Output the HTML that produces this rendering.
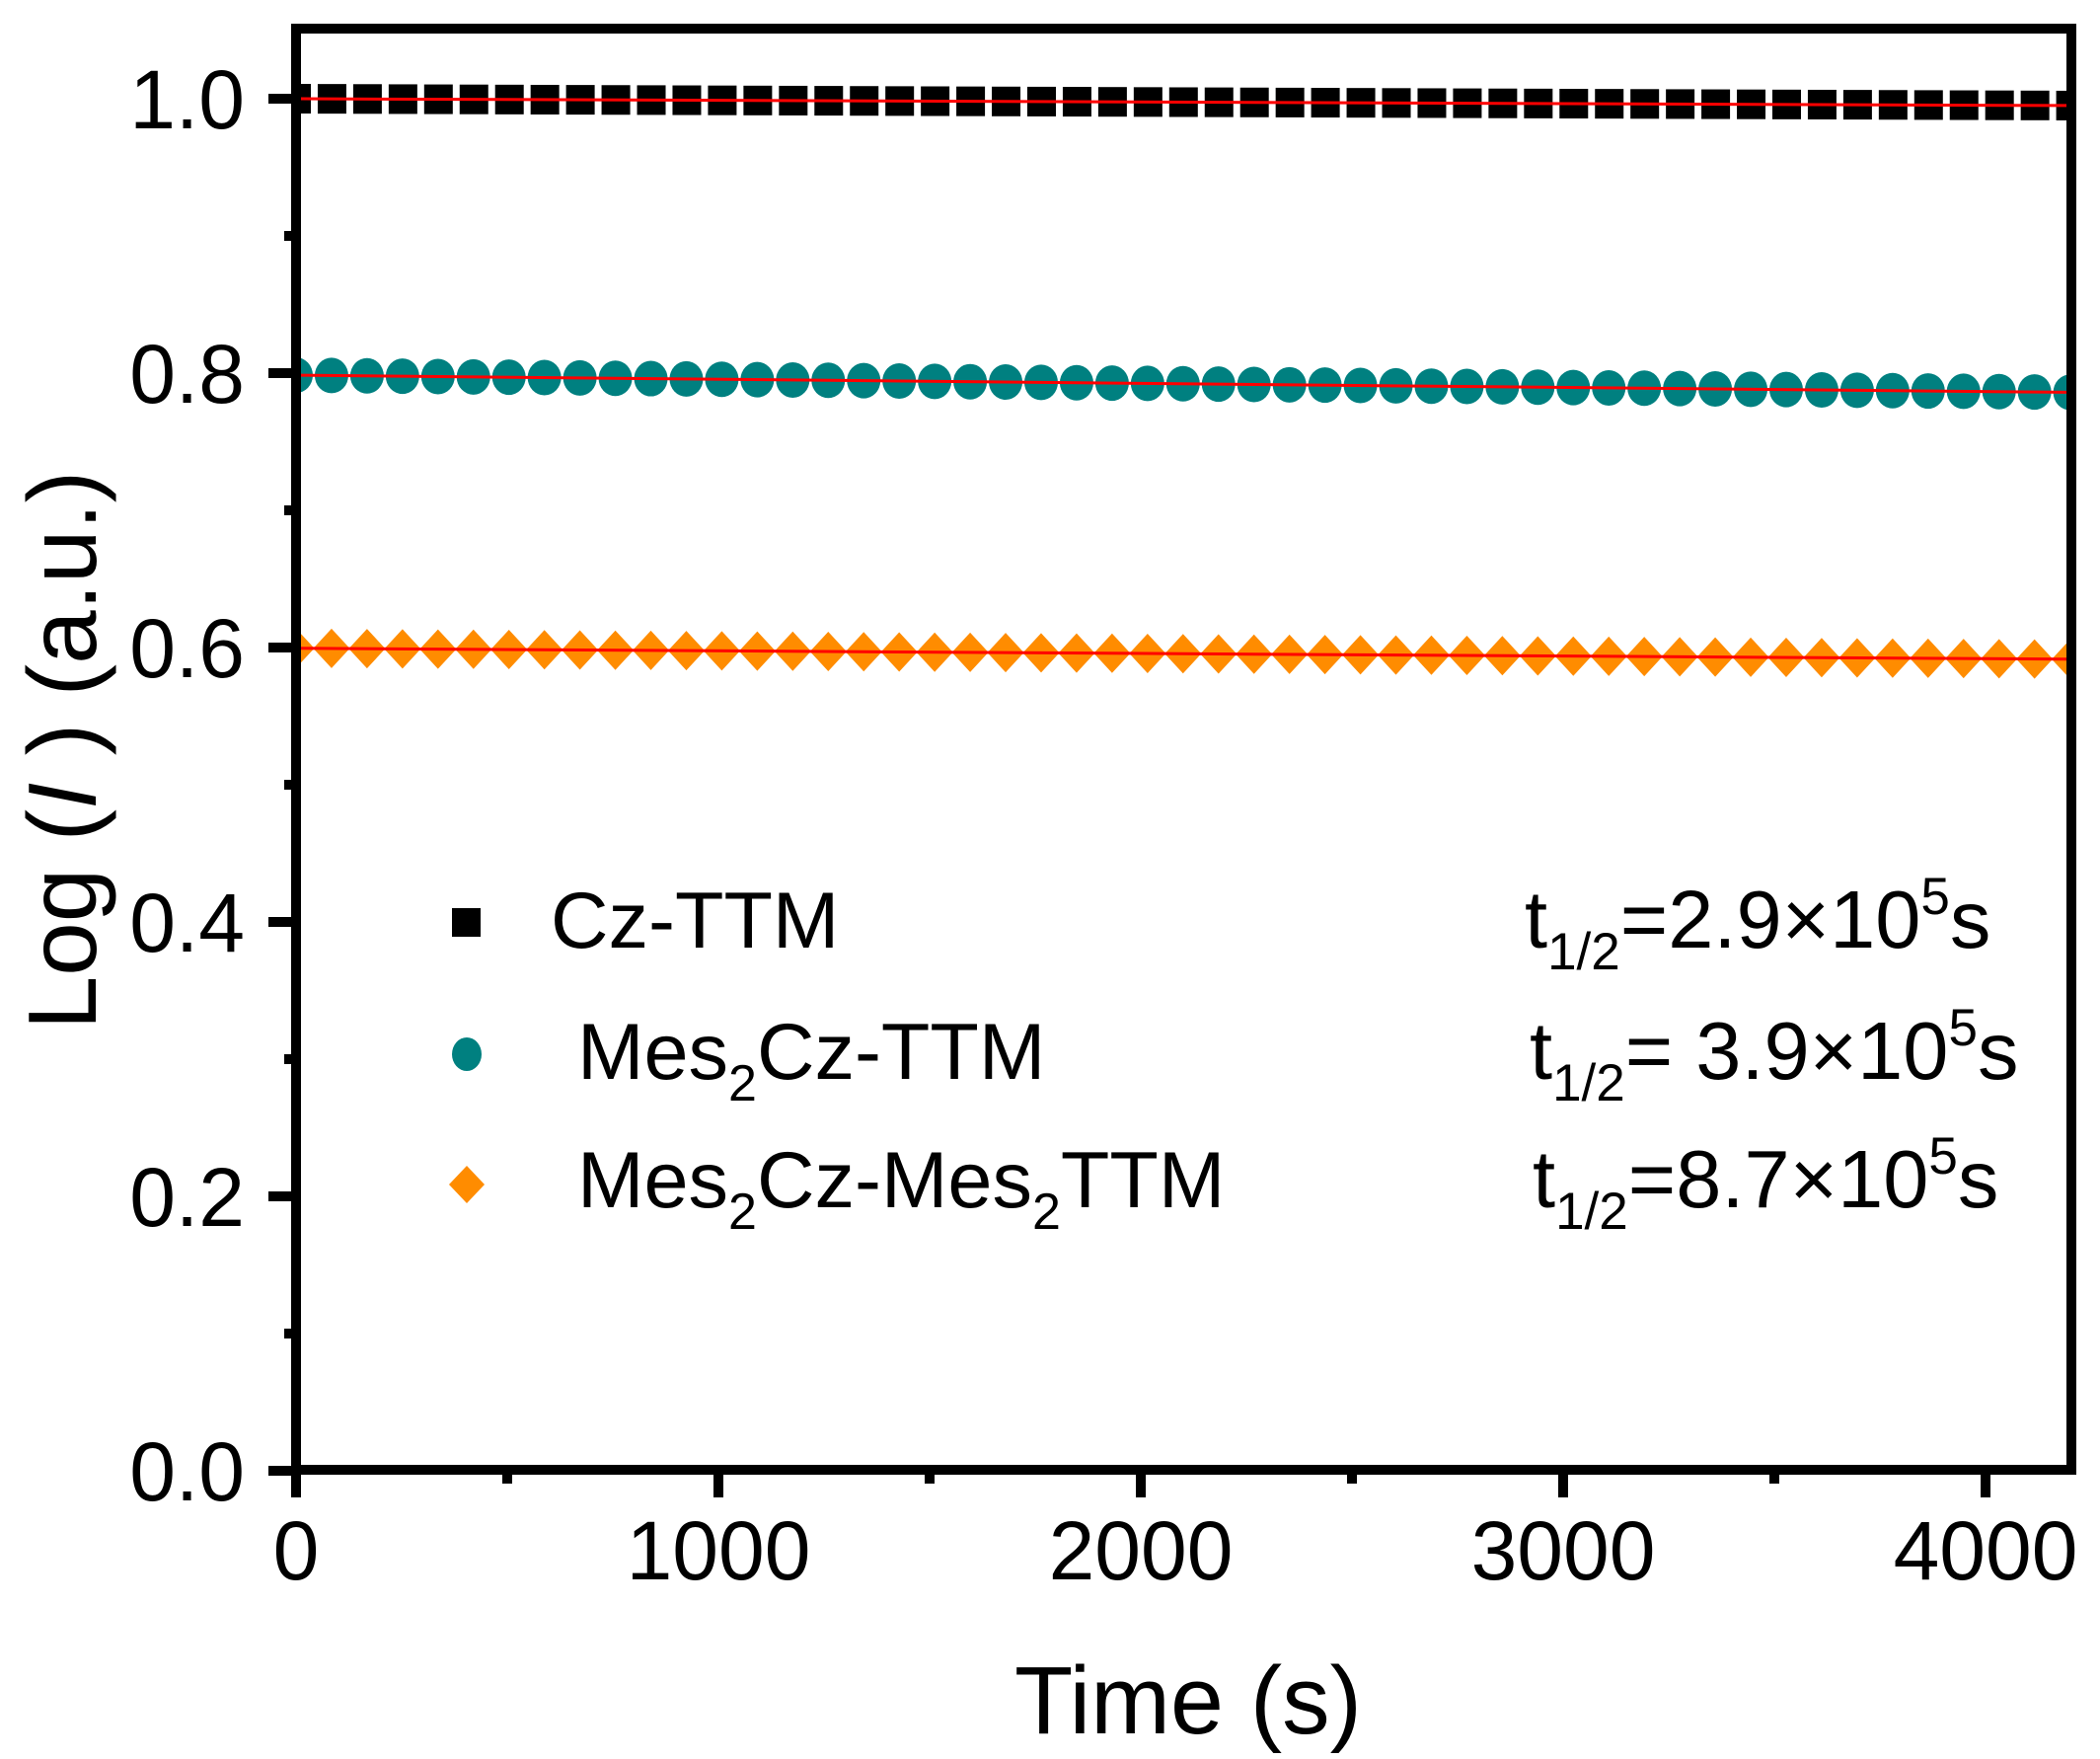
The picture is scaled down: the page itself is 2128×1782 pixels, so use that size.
<!DOCTYPE html>
<html><head><meta charset="utf-8"><style>
html,body{margin:0;padding:0;background:#fff}
svg{display:block}
text{font-family:"Liberation Sans",Arial,sans-serif;fill:#000}
</style></head><body>
<svg width="2128" height="1782" viewBox="0 0 2128 1782" xmlns="http://www.w3.org/2000/svg">
<defs>
<clipPath id="pa"><rect x="305" y="34" width="1789" height="1450"/></clipPath>
</defs>
<g id="data" clip-path="url(#pa)"></g>
<rect x="300" y="29" width="1799" height="1460" fill="none" stroke="#000" stroke-width="10"/>
<g stroke="#000" stroke-width="10" id="ticks"></g>
<g font-size="84" text-anchor="end">
<text x="248" y="130">1.0</text>
<text x="248" y="408">0.8</text>
<text x="248" y="686">0.6</text>
<text x="248" y="964">0.4</text>
<text x="248" y="1242">0.2</text>
<text x="248" y="1520">0.0</text>
</g>
<g font-size="84" text-anchor="middle">
<text x="300" y="1600">0</text>
<text x="728" y="1600">1000</text>
<text x="1156" y="1600">2000</text>
<text x="1584" y="1600">3000</text>
<text x="2012" y="1600">4000</text>
</g>
<text x="1204" y="1756" font-size="97" text-anchor="middle">Time (s)</text>
<text transform="translate(97,760) rotate(-90)" font-size="98" text-anchor="middle">Log (<tspan font-style="italic">I</tspan> ) (a.u.)</text>
<rect x="458" y="920" width="29" height="29" fill="#000"/>
<ellipse cx="473" cy="1068" rx="15" ry="17" fill="#008080"/>
<polygon points="473,1181 491,1200 473,1219 455,1200" fill="#FF8C00"/>
<g font-size="81">
<text x="558" y="960">Cz-TTM</text>
<text x="585" y="1093">Mes<tspan font-size="52" dy="22">2</tspan><tspan dy="-22">Cz-TTM</tspan></text>
<text x="585" y="1223">Mes<tspan font-size="52" dy="22">2</tspan><tspan dy="-22">Cz-Mes</tspan><tspan font-size="52" dy="22">2</tspan><tspan dy="-22">TTM</tspan></text>
</g>
<g font-size="83">
<text x="1545" y="960">t<tspan font-size="53" dy="22">1/2</tspan><tspan dy="-22">=2.9×10</tspan><tspan font-size="53" dy="-34">5</tspan><tspan dy="34">s</tspan></text>
<text x="1550" y="1093">t<tspan font-size="53" dy="22">1/2</tspan><tspan dy="-22">= 3.9×10</tspan><tspan font-size="53" dy="-34">5</tspan><tspan dy="34">s</tspan></text>
<text x="1553" y="1223">t<tspan font-size="53" dy="22">1/2</tspan><tspan dy="-22">=8.7×10</tspan><tspan font-size="53" dy="-34">5</tspan><tspan dy="34">s</tspan></text>
</g>
<script>
(function(){
var ns="http://www.w3.org/2000/svg";
function el(p,t,a){var e=document.createElementNS(ns,t);for(var k in a)e.setAttribute(k,a[k]);p.appendChild(e);return e;}
var d=document.getElementById('data'),tk=document.getElementById('ticks');
var x0=300,sx=0.428,yv=function(v){return 1490-v*1390;};
for(var i=0;i<=10;i++){var y=yv(i*0.1);var L=(i%2==0)?28:12;el(tk,'line',{x1:300-L,y1:y,x2:300,y2:y});}
for(var t=0;t<=4000;t+=500){var x=x0+t*sx;var L=(t%1000==0)?28:14;el(tk,'line',{x1:x,y1:1489,x2:x,y2:1489+L});}
var N=50,dt=84;
var ser=[[1.0,0.995],[0.7985,0.786],[0.5995,0.5915]];
for(var s=0;s<3;s++){
 var a=ser[s][0],b=ser[s][1];
 for(var j=0;j<=N;j++){
  var x=x0+j*dt*sx, v=a+(b-a)*j/N, y=yv(v);
  if(s==0) el(d,'rect',{x:x-14,y:y-15,width:29,height:30,fill:'#000'});
  else if(s==1) el(d,'ellipse',{cx:x,cy:y,rx:17,ry:18,fill:'#008080'});
  else el(d,'polygon',{points:(x)+','+(y-20)+' '+(x+18.5)+','+y+' '+x+','+(y+20)+' '+(x-18.5)+','+y,fill:'#FF8C00'});
 }
 el(d,'line',{x1:x0,y1:yv(a),x2:x0+N*dt*sx,y2:yv(b),stroke:'#FF0000','stroke-width':3});
}
})();
</script>
</svg>
</body></html>
